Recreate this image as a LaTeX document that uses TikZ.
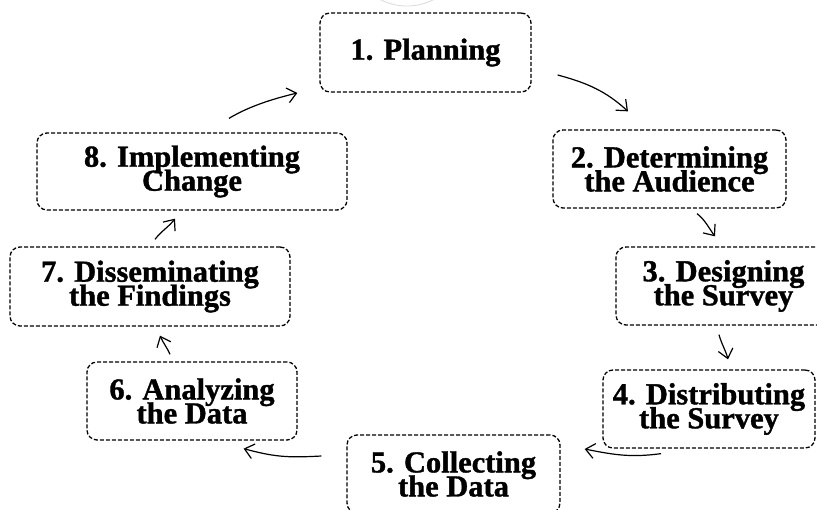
\documentclass[tikz,border=0pt]{standalone}
\usepackage{fontspec}
\setmainfont{Liberation Serif}[BoldFeatures={FakeBold=1.2}]
\usetikzlibrary{arrows.meta,calc}

% stage labels: large bold serif with tight leading
\newcommand\stagefont{\fontsize{30.5}{24}\selectfont\bfseries\lineskiplimit=-40pt\relax}

\tikzset{
  stage/.style={draw, dashed, line width=1.3pt, dash pattern=on 4pt off 2pt,
    rounded corners=10pt, align=center, inner sep=0pt, font=\stagefont},
  flow/.style={line width=1.2pt, -{Straight Barb[length=9pt,width=15pt,line width=1.2pt]}},
  halo/.style={draw=black!15, line width=0.8pt}
}

\begin{document}
\begin{tikzpicture}[x=1pt,y=-1pt]
  \useasboundingbox (0,0) rectangle (817,510);

  % faint ring peeking in at the top edge
  \draw[halo] (407,-53) circle[radius=59];

  % stages of the survey cycle
  \node[stage, minimum width=211pt, minimum height=79pt] (n1) at (425.5,52.5) {1. Planning};
  \node[stage, minimum width=233pt, minimum height=78pt] (n2) at (669.5,169) {2. Determining\\the Audience};
  \node[stage, minimum width=215pt, minimum height=78pt] (n3) at (723.5,286) {3. Designing\\the Survey};
  \node[stage, minimum width=212pt, minimum height=78pt] (n4) at (709,409) {4. Distributing\\the Survey};
  \node[stage, minimum width=213pt, minimum height=78pt] (n5) at (453.5,474) {5. Collecting\\the Data};
  \node[stage, minimum width=210pt, minimum height=78pt] (n6) at (192,401) {6. Analyzing\\the Data};
  \node[stage, minimum width=280pt, minimum height=79pt] (n7) at (150,286.5) {7. Disseminating\\the Findings};
  \node[stage, minimum width=310pt, minimum height=77pt] (n8) at (192,171.5) {8. Implementing\\Change};

  % curved arrows between consecutive stages
  \draw[flow] ($(n1.east)+(26,22.5)$) .. controls +(30,8) and +(-22,-20) .. ($(n2.north)+(-41.5,-18)$);
  \draw[flow] ($(n2.south)+(27.5,5)$) .. controls +(8,6) and +(-6,-8) .. ($(n3.north)+(-8.5,-10)$);
  \draw[flow] ($(n3.south)+(-4.5,9)$) .. controls +(2,8) and +(-2,-8) .. ($(n4.north)+(19,-10)$);
  \draw[flow] ($(n4.south)+(-48,5)$) .. controls +(-30,4) and +(30,6) .. ($(n5.east)+(24,-25)$);
  \draw[flow] ($(n5.west)+(-25,-18)$) .. controls +(-35,2) and +(30,8) .. ($(n6.south east)+(-54,8)$);
  \draw[flow] ($(n6.north)+(-22,-7)$) .. controls +(-3,-7) and +(3,7) .. ($(n7.south)+(10,9)$);
  \draw[flow] ($(n7.north)+(5,-7)$) .. controls +(6,-8) and +(-6,8) .. ($(n8.south)+(-17,8)$);
  \draw[flow] ($(n8.north)+(37,-14)$) .. controls +(20,-12) and +(-25,6) .. ($(n1.west)+(-22,40.5)$);
\end{tikzpicture}
\end{document}
